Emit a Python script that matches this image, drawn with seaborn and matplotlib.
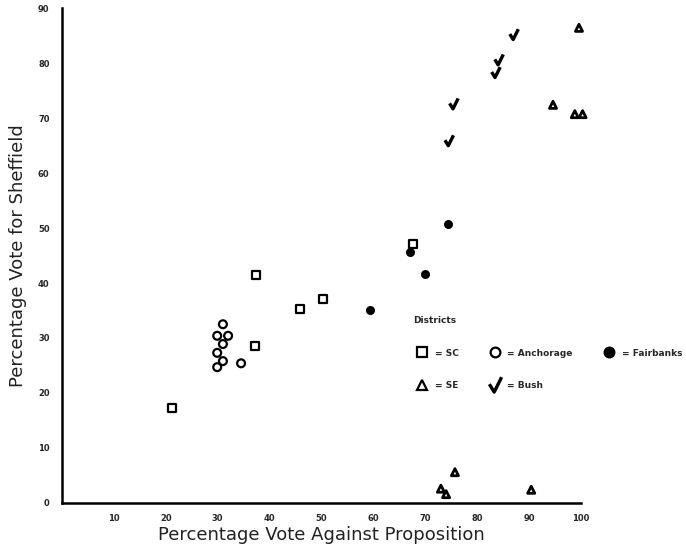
"""Scatter of Sheffield vote vs. vote against the proposition, by district."""
import matplotlib.pyplot as plt
from matplotlib.lines import Line2D
from matplotlib.path import Path
import pandas as pd
import seaborn as sns

# values
sc_x = [21.2, 37.4, 45.9, 50.3, 37.2, 67.6]
sc_y = [17.3, 41.5, 35.3, 37.1, 28.5, 47.1]
anchorage_x = [31.0, 29.9, 32.0, 31.0, 29.9, 31.0, 29.9, 34.5]
anchorage_y = [32.5, 30.4, 30.4, 28.9, 27.3, 25.8, 24.7, 25.4]
fairbanks_x = [59.3, 67.0, 69.9, 74.4]
fairbanks_y = [35.1, 45.6, 41.6, 50.7]
se_x = [99.6, 94.6, 98.8, 100.3, 75.7, 73.0, 74.0, 90.4]
se_y = [86.4, 72.4, 70.7, 70.7, 5.6, 2.6, 1.6, 2.4]
bush_x = [87.1, 84.2, 83.6, 75.5, 74.6]
bush_y = [85.1, 80.5, 78.2, 72.5, 65.8]

x_ticks = [10, 20, 30, 40, 50, 60, 70, 80, 90, 100]
y_ticks = [0, 10, 20, 30, 40, 50, 60, 70, 80, 90]

groups = {
    "SC": (sc_x, sc_y),
    "Anchorage": (anchorage_x, anchorage_y),
    "Fairbanks": (fairbanks_x, fairbanks_y),
    "SE": (se_x, se_y),
    "Bush": (bush_x, bush_y),
}
df = pd.concat(
    [pd.DataFrame({"against": x, "sheffield": y, "district": name})
     for name, (x, y) in groups.items()],
    ignore_index=True,
)

# open tick mark for the Bush districts
check = Path([(-0.7, 0.15), (-0.15, -0.75), (0.7, 0.95)],
             [Path.MOVETO, Path.LINETO, Path.LINETO])

styles = {
    "SC": dict(marker="s", s=30, facecolor="none", edgecolor="black", linewidth=1.6),
    "Anchorage": dict(marker="o", s=32, facecolor="none", edgecolor="black", linewidth=1.6),
    "Fairbanks": dict(marker="o", s=30, facecolor="black", edgecolor="black", linewidth=1),
    "SE": dict(marker="^", s=26, facecolor="none", edgecolor="black", linewidth=2),
    "Bush": dict(marker=check, s=70, facecolor="none", edgecolor="black", linewidth=2.4),
}

sns.set_style("white")
plt.rcParams["font.family"] = ["DejaVu Sans"]

fig = plt.figure(figsize=(6.86, 5.58), dpi=100)
ax = fig.add_axes([0.0904, 0.0986, 0.7566, 0.887])

for name, kw in styles.items():
    sns.scatterplot(data=df[df["district"] == name], x="against", y="sheffield",
                    ax=ax, legend=False, clip_on=False, **kw)

ax.set_xlim(0, 100)
ax.set_ylim(0, 90)
ax.set_xticks(x_ticks)
ax.set_xticks(range(5, 100, 10), minor=True)
ax.set_yticks(y_ticks)
ax.set_xticklabels([str(t) for t in x_ticks], fontsize=6, fontweight="bold")
ax.set_yticklabels([str(t) for t in y_ticks], fontsize=6, fontweight="bold")
ax.tick_params(axis="both", which="both", direction="out", color="black", width=1.2)
ax.tick_params(axis="x", which="major", length=5, pad=3)
ax.tick_params(axis="x", which="minor", length=3)
ax.tick_params(axis="y", length=3, pad=6)

sns.despine(ax=ax)
for side in ("left", "bottom"):
    ax.spines[side].set_color("black")
    ax.spines[side].set_linewidth(1.8)

ax.set_xlabel("Percentage Vote Against Proposition", fontsize=13, color="#222222", labelpad=2)
ax.set_ylabel("Percentage Vote for Sheffield", fontsize=13, color="#222222", labelpad=8)

# legend: 3 columns, filled column-wise so SC/SE, Anchorage/Bush, Fairbanks
order = ["SC", "SE", "Anchorage", "Bush", "Fairbanks"]
handles = []
for name in order:
    kw = styles[name]
    handles.append(Line2D(
        [], [], linestyle="none", marker=kw["marker"],
        markersize=12 if name == "Bush" else 7,
        markerfacecolor=kw["facecolor"],
        markeredgecolor="black", markeredgewidth=2.4 if name == "Bush" else 1.6,
    ))
labels = ["= " + n for n in order]
leg = fig.legend(handles, labels, title="Districts", ncol=3, loc="upper left",
                 bbox_to_anchor=(0.597, 0.44), frameon=False, fontsize=6.5,
                 title_fontsize=6.5, alignment="left", handletextpad=0.4,
                 columnspacing=3.0, labelspacing=2.6, borderaxespad=0)
for t in leg.get_texts():
    t.set_fontweight("bold")
leg.get_title().set_fontweight("bold")

fig.savefig("out.png", dpi=100)
